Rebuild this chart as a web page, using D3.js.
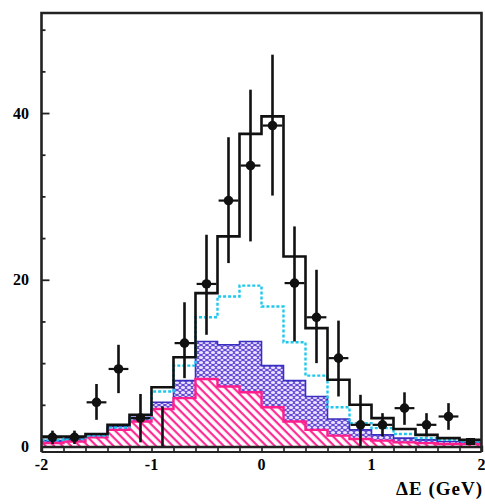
<!DOCTYPE html>
<html>
<head>
<meta charset="utf-8">
<script src="https://cdn.jsdelivr.net/npm/d3@7"></script>
<style>
  body { margin: 0; background: #fff; }
  svg { display: block; }
</style>
</head>
<body>
<div id="chart"></div>
<script>
// bin centres (GeV), bin width 0.2
const binCenters = [-1.9, -1.7, -1.5, -1.3, -1.1, -0.9, -0.7, -0.5, -0.3, -0.1,
                     0.1, 0.3, 0.5, 0.7, 0.9, 1.1, 1.3, 1.5, 1.7, 1.9];
const binWidth = 0.2;

// total fit (black solid)
const totalHist = [1.2, 1.2, 1.5, 2.6, 3.8, 7.1, 10.7, 18.4, 25.2, 37.5,
                   39.6, 22.8, 14.2, 8.0, 5.0, 3.4, 2.1, 1.4, 1.0, 0.8];
// cyan dashed
const cyanHist = [0.8, 0.9, 1.3, 2.3, 3.4, 6.6, 9.7, 15.5, 18.0, 19.3,
                  16.8, 12.5, 8.5, 4.7, 2.8, 2.2, 1.5, 1.0, 0.8, 0.6];
// blue cross-hatched
const blueHist = [0.7, 0.9, 1.4, 2.4, 3.5, 5.3, 7.9, 12.6, 12.2, 12.6,
                  9.7, 7.9, 6.0, 3.3, 2.0, 1.4, 1.0, 0.8, 0.6, 0.5];
// pink hatched
const pinkHist = [0.4, 0.6, 1.1, 2.0, 3.0, 4.5, 5.8, 8.1, 7.2, 6.5,
                  4.7, 3.0, 2.0, 1.3, 0.9, 0.7, 0.5, 0.4, 0.3, 0.3];

// data points with errors
const dataY    = [1.1, 1.1, 5.3, 9.3, 3.4, 0, 12.4, 19.5, 29.5, 33.7,
                  38.5, 19.6, 15.5, 10.6, 2.6, 2.6, 4.6, 2.6, 3.6, 0.6];
const errUp    = [0.8, 0.8, 2.2, 2.9, 2.9, 4.8, 4.9, 5.9, 7.6, 9.1,
                  8.5, 6.8, 5.7, 4.5, 3.6, 1.4, 1.9, 1.4, 1.6, 0];
const errDown  = [0.8, 0.8, 2.1, 2.9, 2.9, 0, 4.2, 6.1, 7.5, 9.1,
                  8.4, 7.0, 5.5, 4.6, 2.8, 1.4, 2.0, 1.4, 1.6, 0];
const xErr = 0.09;

const yTickValues = [0, 5, 10, 15, 20, 25, 30, 35, 40, 45, 50];
const yTickLabels = [0, 20, 40];
const xTickLabels = [-2, -1, 0, 1, 2];

const width = 485, height = 504;
const svg = d3.select('#chart').append('svg')
    .attr('width', width).attr('height', height);

const x = d3.scaleLinear().domain([-2, 2]).range([41.5, 481.5]);
const y = d3.scaleLinear().domain([0, 52]).range([446.5, 13]);

// patterns
const defs = svg.append('defs');
const hatch = defs.append('pattern')
    .attr('id', 'pinkHatch').attr('patternUnits', 'userSpaceOnUse')
    .attr('width', 6).attr('height', 6)
    .attr('patternTransform', 'rotate(45)');
hatch.append('rect').attr('width', 6).attr('height', 6).attr('fill', '#fff');
hatch.append('rect').attr('width', 6).attr('height', 2.2).attr('fill', '#ff2a96');

const mesh = defs.append('pattern')
    .attr('id', 'blueMesh').attr('patternUnits', 'userSpaceOnUse')
    .attr('width', 6).attr('height', 5);
mesh.append('rect').attr('width', 6).attr('height', 5).attr('fill', '#6448d8');
mesh.append('ellipse').attr('cx', 3).attr('cy', 2.5).attr('rx', 2.1).attr('ry', 1.5).attr('fill', '#ebe6ff');
[[0, 0], [6, 0], [0, 5], [6, 5]].forEach(([cx, cy]) => {
    mesh.append('ellipse').attr('cx', cx).attr('cy', cy).attr('rx', 1.6).attr('ry', 1.1).attr('fill', '#ebe6ff');
});

// turn a histogram into step points
function steps(values) {
    const pts = values.map((v, i) => [binCenters[i] - binWidth / 2, v]);
    pts.push([binCenters[binCenters.length - 1] + binWidth / 2, values[values.length - 1]]);
    return pts;
}

const area = d3.area().curve(d3.curveStepAfter)
    .x(d => x(d[0])).y0(y(0)).y1(d => y(d[1]));
const line = d3.line().curve(d3.curveStepAfter)
    .x(d => x(d[0])).y(d => y(d[1]));

const plot = svg.append('g');

plot.append('path').attr('d', area(steps(blueHist)))
    .attr('fill', 'url(#blueMesh)');
plot.append('path').attr('d', line(steps(blueHist)))
    .attr('fill', 'none').attr('stroke', '#3b2fc0').attr('stroke-width', 1.6);

plot.append('path').attr('d', area(steps(pinkHist)))
    .attr('fill', 'url(#pinkHatch)');
plot.append('path').attr('d', line(steps(pinkHist)))
    .attr('fill', 'none').attr('stroke', '#ff1e8c').attr('stroke-width', 2.4);

plot.append('path').attr('d', line(steps(cyanHist)))
    .attr('fill', 'none').attr('stroke', '#1ec8ec').attr('stroke-width', 2.4)
    .attr('stroke-dasharray', '3,2');

plot.append('path').attr('d', line(steps(totalHist)))
    .attr('fill', 'none').attr('stroke', '#111').attr('stroke-width', 2.6);

// data points
const pts = plot.selectAll('g.pt')
    .data(binCenters.map((c, i) => ({ x: c, y: dataY[i], up: errUp[i], dn: errDown[i] })))
    .enter().append('g').attr('class', 'pt');

pts.filter(d => d.up + d.dn > 0).append('line')
    .attr('x1', d => x(d.x)).attr('x2', d => x(d.x))
    .attr('y1', d => y(d.y + d.up)).attr('y2', d => y(Math.max(d.y - d.dn, -0.3)))
    .attr('stroke', '#111').attr('stroke-width', 2.6);
pts.filter(d => d.y > 0 && d.up > 0).append('line')
    .attr('x1', d => x(d.x - xErr)).attr('x2', d => x(d.x + xErr))
    .attr('y1', d => y(d.y)).attr('y2', d => y(d.y))
    .attr('stroke', '#111').attr('stroke-width', 2.2);
pts.filter(d => d.y > 0 && d.up > 0).append('circle')
    .attr('cx', d => x(d.x)).attr('cy', d => y(d.y)).attr('r', 4.8)
    .attr('fill', '#111');
pts.filter(d => d.y > 0 && d.up === 0).append('rect')
    .attr('x', d => x(d.x) - 4.5).attr('y', d => y(d.y) - 3.5)
    .attr('width', 9).attr('height', 7).attr('fill', '#111');

// frame
const frame = svg.append('g').attr('stroke', '#222').attr('fill', 'none');
frame.append('path')
    .attr('d', `M${x(-2)},${y(0) + 5.5} L${x(-2)},${y(52)} L${x(2)},${y(52)} L${x(2)},${y(0) + 5.5}`)
    .attr('stroke-width', 2.6);

// bottom axis: ruler style
const xAxis = d3.axisBottom(x).tickValues(d3.range(-2, 2.01, 0.2)).tickSize(5.5).tickFormat('');
const gx = svg.append('g').attr('transform', `translate(0,${y(0)})`).call(xAxis);
gx.select('.domain').attr('stroke', '#222').attr('stroke-width', 2.4);
gx.selectAll('.tick line').attr('stroke', '#222').attr('stroke-width', 1.6);
svg.append('line')
    .attr('x1', x(-2)).attr('x2', x(2)).attr('y1', y(0) + 5.5).attr('y2', y(0) + 5.5)
    .attr('stroke', '#222').attr('stroke-width', 1.8);

// left axis ticks pointing inward
const yAxis = d3.axisRight(y).tickValues(yTickValues)
    .tickSize(4).tickFormat('');
const gy = svg.append('g').attr('transform', `translate(${x(-2)},0)`).call(yAxis);
gy.select('.domain').remove();
gy.selectAll('.tick line')
    .attr('x2', d => yTickLabels.includes(d) ? 8 : 4)
    .attr('stroke', '#222').attr('stroke-width', 1.8);

const labelFont = '"Liberation Serif", "DejaVu Serif", serif';
svg.selectAll('text.ylab').data(yTickLabels).enter().append('text')
    .attr('class', 'ylab')
    .attr('x', 29).attr('y', d => y(d) + 5.5)
    .attr('text-anchor', 'end')
    .attr('font-family', labelFont).attr('font-weight', 'bold').attr('font-size', 16)
    .text(d => d);

svg.selectAll('text.xlab').data(xTickLabels).enter().append('text')
    .attr('class', 'xlab')
    .attr('x', d => x(d)).attr('y', 470)
    .attr('text-anchor', 'middle')
    .attr('font-family', labelFont).attr('font-weight', 'bold').attr('font-size', 16)
    .text(d => d);

svg.append('text')
    .attr('x', 483).attr('y', 495)
    .attr('text-anchor', 'end')
    .attr('font-family', labelFont).attr('font-weight', 'bold').attr('font-size', 19)
    .attr('letter-spacing', 1)
    .text('ΔE (GeV)');
</script>
</body>
</html>
